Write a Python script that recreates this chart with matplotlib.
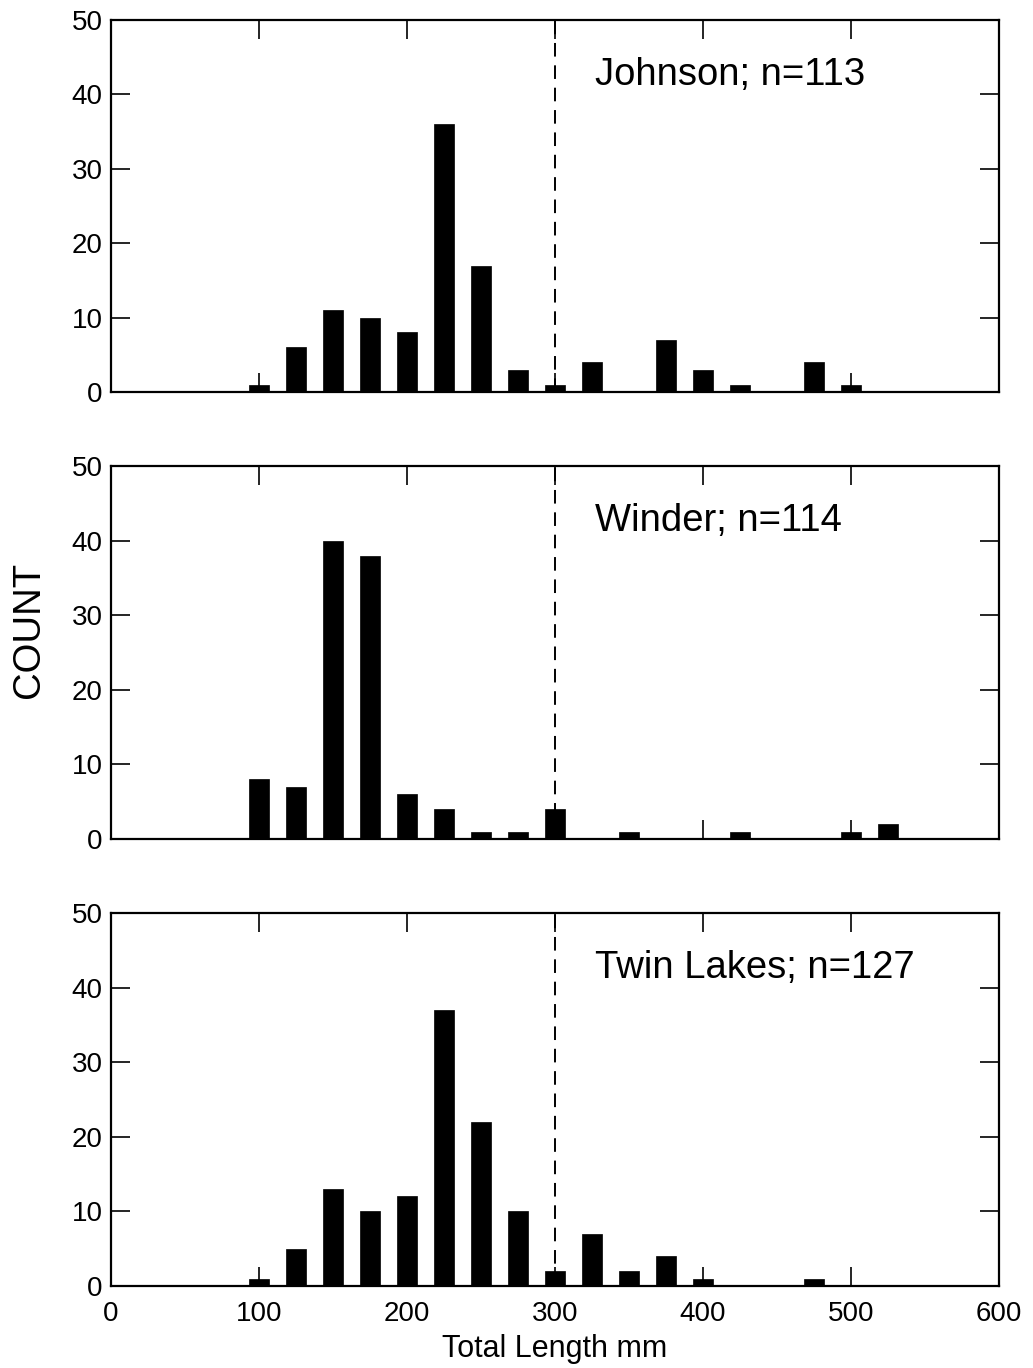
"""Length-frequency histograms for three lakes, stacked panels with a shared x axis."""

import matplotlib

matplotlib.use("Agg")
import matplotlib.pyplot as plt

BIN_CENTERS = [100, 125, 150, 175, 200, 225, 250, 275, 300, 325, 350,
               375, 400, 425, 450, 475, 500, 525]

JOHNSON = [1, 6, 11, 10, 8, 36, 17, 3, 1, 4, 0, 7, 3, 1, 0, 4, 1, 0]
WINDER = [8, 7, 40, 38, 6, 4, 1, 1, 4, 0, 1, 0, 0, 1, 0, 0, 1, 2]
TWIN_LAKES = [1, 5, 13, 10, 12, 37, 22, 10, 2, 7, 2, 4, 1, 0, 0, 1, 0, 0]

PANELS = [
    ("Johnson; n=113", JOHNSON),
    ("Winder; n=114", WINDER),
    ("Twin Lakes; n=127", TWIN_LAKES),
]

CUTOFF = 300
X_TICKS = [0, 100, 200, 300, 400, 500, 600]
Y_TICKS = [0, 10, 20, 30, 40, 50]

plt.rcParams["font.family"] = ["Liberation Sans", "DejaVu Sans"]

fig = plt.figure(figsize=(10.33, 13.68), dpi=100)

# axes boxes in pixels: (left, top, right, bottom)
W, H = 1033, 1368
boxes = [(111, 20, 999, 392), (111, 466, 999, 839), (111, 913, 999, 1286)]

axes = []
for left, top, right, bottom in boxes:
    ax = fig.add_axes([left / W, 1 - bottom / H, (right - left) / W, (bottom - top) / H])
    axes.append(ax)

for i, (ax, (label, counts)) in enumerate(zip(axes, PANELS)):
    ax.bar(BIN_CENTERS, counts, width=14, color="black", edgecolor="black", linewidth=0.5)
    ax.axvline(CUTOFF, color="black", linestyle=(0, (7, 4.5)), linewidth=1.4)
    ax.text(327, 42.6, label, fontsize=27.5, va="center", ha="left")

    ax.set_xlim(0, 600)
    ax.set_ylim(0, 50)
    ax.set_xticks(X_TICKS)
    ax.set_yticks(Y_TICKS)
    ax.tick_params(direction="in", length=14, width=1.2, top=True, right=True,
                   labelsize=20)
    ax.tick_params(axis="y", pad=6)
    ax.tick_params(axis="x", pad=11)
    for spine in ax.spines.values():
        spine.set_linewidth(1.6)
    if i < 2:
        ax.tick_params(labelbottom=False)

axes[2].set_xlabel("Total Length mm", fontsize=22, labelpad=5)
fig.text(29 / W, 1 - 630 / H, "COUNT", rotation=90, fontsize=27.5, va="center", ha="center")

fig.savefig("out.png", dpi=100)
